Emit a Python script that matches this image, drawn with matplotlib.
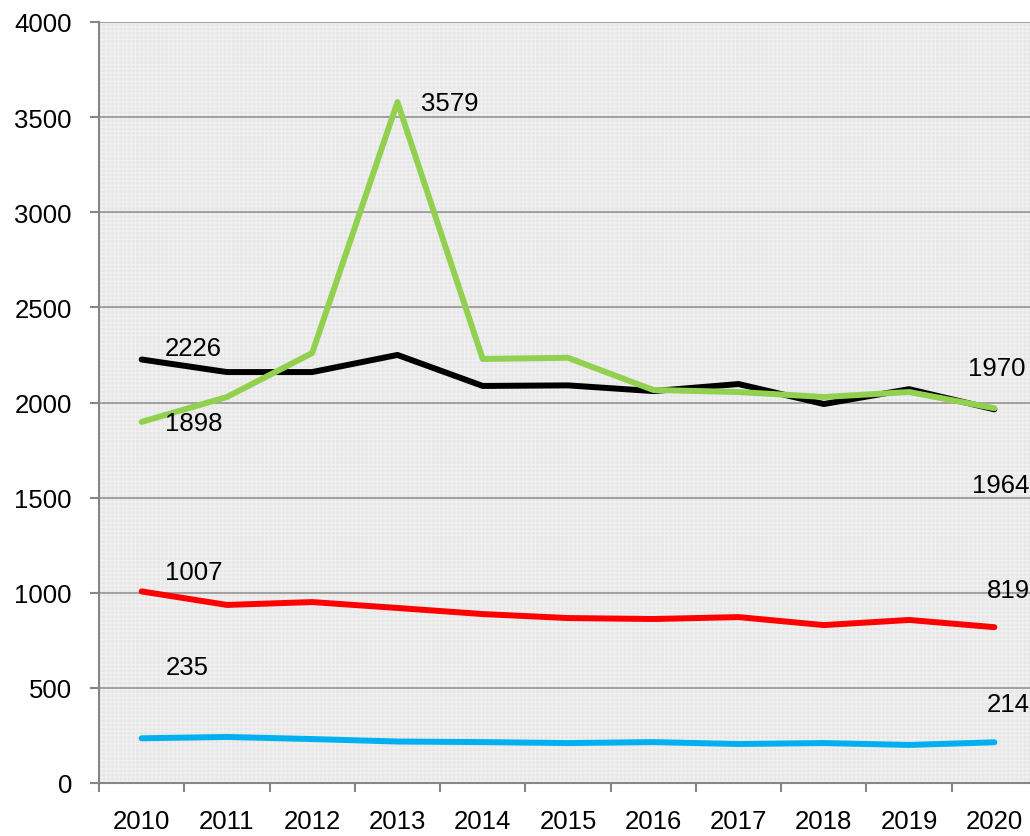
import matplotlib.pyplot as plt
from matplotlib.patches import Rectangle

plt.rcParams['font.family'] = ['Liberation Sans', 'DejaVu Sans']

# data
years = ['2010', '2011', '2012', '2013', '2014', '2015', '2016', '2017', '2018', '2019', '2020']
black = [2226, 2160, 2160, 2250, 2087, 2090, 2060, 2097, 1992, 2070, 1964]
green = [1898, 2029, 2260, 3579, 2229, 2235, 2066, 2055, 2029, 2055, 1970]
red = [1007, 936, 951, 920, 888, 867, 862, 872, 830, 857, 819]
blue = [235, 242, 231, 218, 215, 210, 215, 205, 210, 200, 214]

fig = plt.figure(figsize=(10.30, 8.37), dpi=100)
ax = fig.add_axes([99/1030, 1 - 784/837, 938/1030, 761/837])
ax.set_facecolor('#e6e6e6')
# fine patterned background
ax.add_patch(Rectangle((0, 0), 1, 1, transform=ax.transAxes, facecolor='none',
                       edgecolor='#f0f0f0', hatch='++++', lw=0, zorder=0))

x = list(range(len(years)))
lw = 4.3
ax.plot(x, blue, color='#00b0f0', lw=lw, solid_capstyle='round', zorder=3)
ax.plot(x, red, color='#ff0000', lw=lw, solid_capstyle='round', zorder=3)
ax.plot(x, black, color='#000000', lw=lw, solid_capstyle='round', zorder=3)
ax.plot(x, green, color='#92d050', lw=lw, solid_capstyle='round', zorder=4)

ax.set_xlim(-0.5, 10.5)
ax.set_ylim(0, 4000)
ax.set_yticks(range(0, 4001, 500))
ax.yaxis.grid(True, color='#8c8c8c', lw=1.1)
ax.set_axisbelow(True)

# tick marks at category boundaries, labels at centers
ax.set_xticks([i - 0.5 for i in range(len(years) + 1)])
ax.set_xticklabels([])
ax.set_xticks(x, minor=True)
ax.set_xticklabels(years, minor=True)
ax.tick_params(axis='x', which='major', length=6.5, width=1.5, color='#868686', direction='out')
ax.tick_params(axis='x', which='minor', length=0, pad=19, labelsize=18.5)
ax.tick_params(axis='y', length=6.5, width=1.5, color='#868686', pad=13, labelsize=18.5)

for s in ['top', 'right']:
    ax.spines[s].set_visible(False)
for s in ['left', 'bottom']:
    ax.spines[s].set_color('#868686')
    ax.spines[s].set_linewidth(1.5)

# value labels (offsets in pixels converted to points)
px = 72 / 100
labels = [
    (0, black[0], 52, 12),
    (0, green[0], 52, -1),
    (3, green[3], 52, -1),
    (10, green[10], 2, 40),
    (10, black[10], 6, -76),
    (0, red[0], 52, 19),
    (10, red[10], 14, 37),
    (0, blue[0], 46, 71),
    (10, blue[10], 14, 38),
]
for xi, v, dx, dy in labels:
    ax.annotate(str(v), (xi, v), xytext=(dx * px, dy * px), textcoords='offset points',
                ha='center', va='center', fontsize=18.5, annotation_clip=False, zorder=5)

fig.savefig('out.png', dpi=100)
